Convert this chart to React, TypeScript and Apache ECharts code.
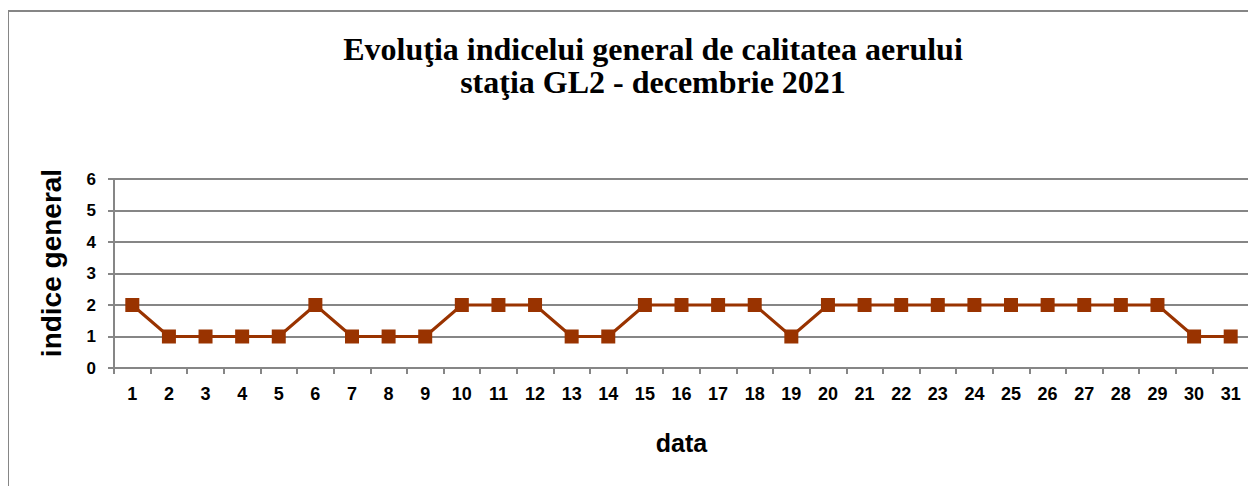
import React, { useEffect, useRef } from "react";
import * as echarts from "echarts";

const titleLines = ["Evoluţia indicelui general de calitatea aerului", "staţia GL2 - decembrie 2021"];
const days = Array.from({ length: 31 }, (_, i) => String(i + 1));
const values = [2, 1, 1, 1, 1, 2, 1, 1, 1, 2, 2, 2, 1, 1, 2, 2, 2, 2, 1, 2, 2, 2, 2, 2, 2, 2, 2, 2, 2, 1, 1];
const yAxisName = "indice general";
const xAxisName = "data";

export default function App() {
  const ref = useRef<HTMLDivElement>(null);
  useEffect(() => {
    const chart = echarts.init(ref.current!, null, { renderer: "svg" });
    const gray = "#868686";
    const sans = "Arial, 'Liberation Sans', sans-serif";
    chart.setOption({
      animation: false,
      backgroundColor: "#ffffff",
      title: {
        text: titleLines.join("\n"),
        left: 640,
        textAlign: "center",
        top: 19,
        textStyle: {
          fontFamily: "'Liberation Serif', 'Times New Roman', serif",
          fontWeight: "bold",
          fontSize: 32,
          lineHeight: 33,
          color: "#000",
        },
      },
      graphic: [
        {
          type: "rect",
          shape: { x: 0, y: 3, width: 1400, height: 700 },
          style: { fill: "none", stroke: gray, lineWidth: 2 },
          silent: true,
        },
        {
          type: "text",
          x: 43,
          y: 255,
          rotation: Math.PI / 2,
          style: {
            text: yAxisName,
            fontFamily: sans,
            fontWeight: "bold",
            fontSize: 28,
            fill: "#000",
            align: "center",
            verticalAlign: "middle",
          },
          silent: true,
        },
      ],
      grid: { left: 106, top: 171, right: 7, bottom: 118, show: true, borderColor: gray, borderWidth: 2, backgroundColor: "transparent" },
      xAxis: {
        type: "category",
        data: days,
        boundaryGap: true,
        name: xAxisName,
        nameLocation: "middle",
        nameGap: 62,
        nameTextStyle: { fontFamily: sans, fontWeight: "bold", fontSize: 25, color: "#000" },
        axisLine: { lineStyle: { color: gray, width: 2 } },
        axisTick: { show: true, length: 6, lineStyle: { color: gray, width: 2 } },
        axisLabel: { fontFamily: sans, fontWeight: "bold", fontSize: 18, color: "#000", margin: 17, interval: 0 },
        splitLine: { show: false },
      },
      yAxis: {
        type: "value",
        min: 0,
        max: 6,
        interval: 1,
        axisLine: { show: true, lineStyle: { color: gray, width: 2 } },
        axisTick: { show: true, length: 6, lineStyle: { color: gray, width: 2 } },
        axisLabel: { fontFamily: sans, fontWeight: "bold", fontSize: 17, color: "#000", margin: 18 },
        splitLine: { show: true, lineStyle: { color: gray, width: 2 } },
      },
      series: [
        {
          type: "line",
          data: values,
          symbol: "rect",
          symbolSize: 14,
          lineStyle: { color: "#993300", width: 3 },
          itemStyle: { color: "#993300" },
        },
      ],
    });
    return () => chart.dispose();
  }, []);
  return <div ref={ref} style={{ width: 1248, height: 478 }} />;
}
